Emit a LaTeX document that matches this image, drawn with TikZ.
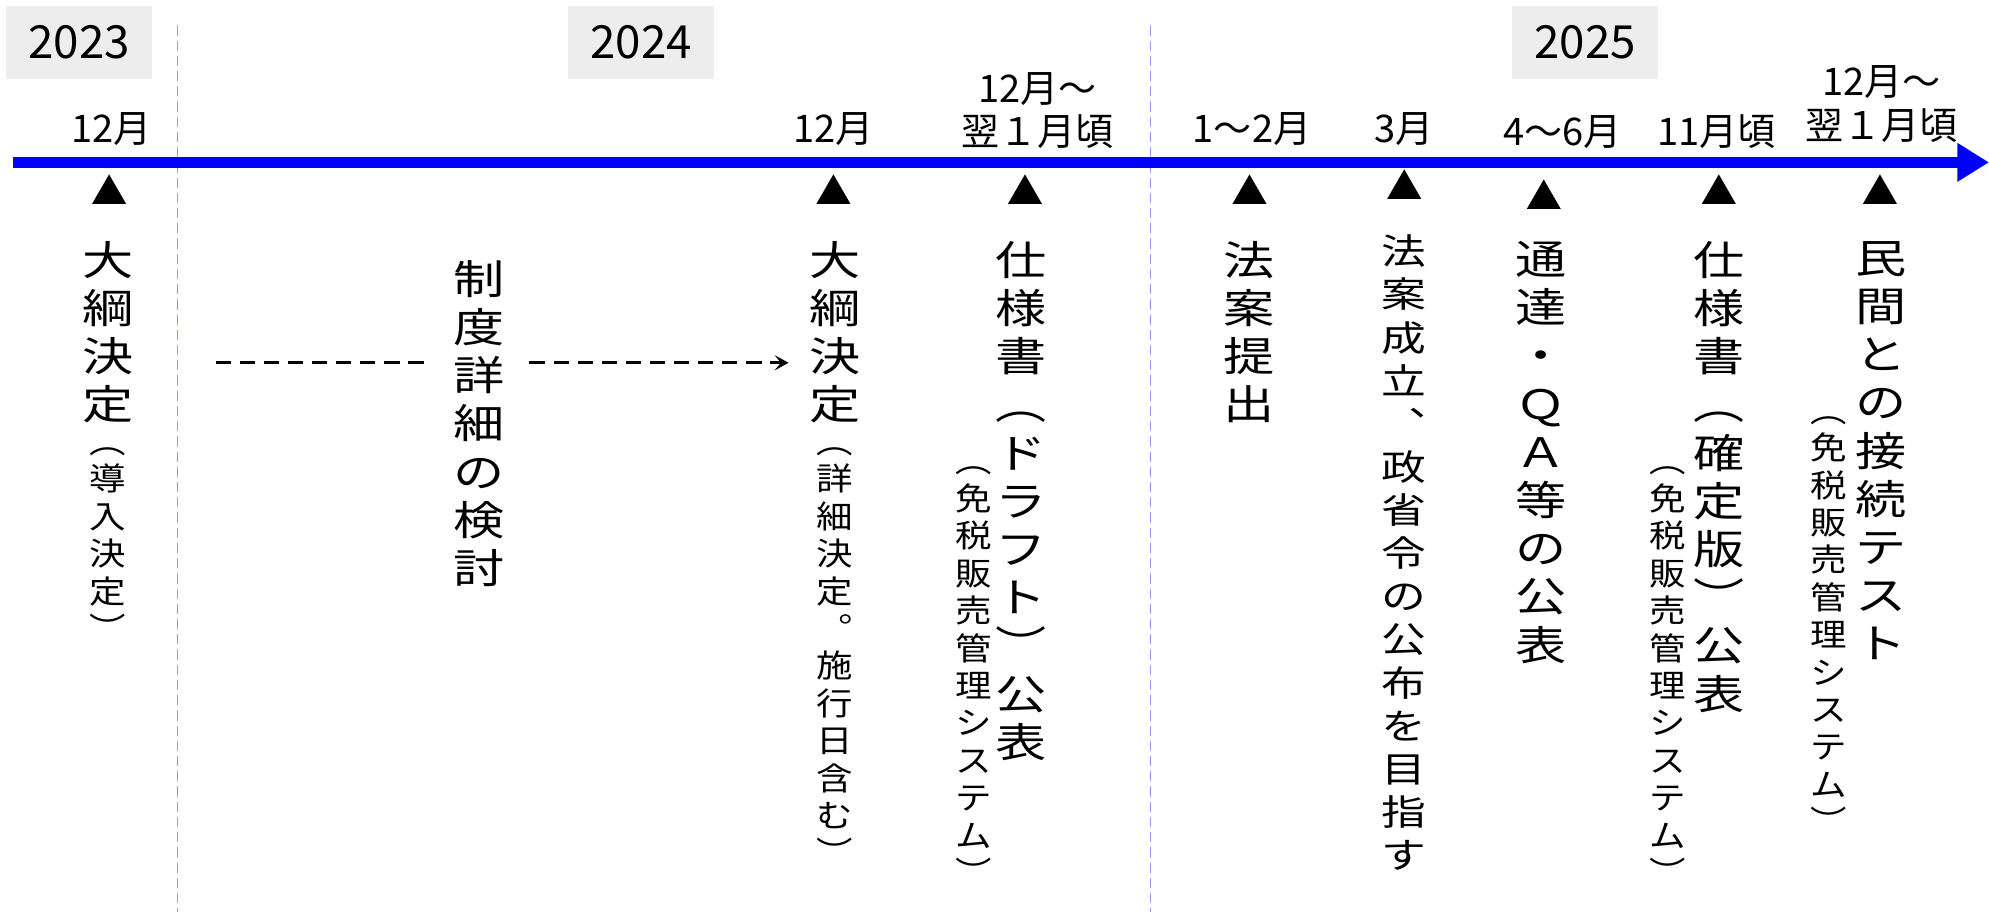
\documentclass[tikz,border=0pt]{standalone}
\usepackage{graphicx}
\usepackage{fontspec}
\setmainfont{Noto Sans CJK JP}
\usetikzlibrary{arrows.meta,shapes.geometric}
\definecolor{yeargray}{HTML}{EDEDED}
\definecolor{sepcol}{HTML}{9999FF}
\definecolor{tlblue}{HTML}{0000FF}
\ExplSyntaxOn
\NewDocumentCommand\vcol{O{1.26}mmm}{%
  \scalebox{#1}[1]{\vbox{\fontsize{#2}{#3}\selectfont
    \tl_map_inline:nn{#4}{\hbox_to_wd:nn{#2pt}{\hss##1\hss}}}}}
\ExplSyntaxOff
\newcommand\bigv[1]{\vcol{32}{38}{#1}}
\newcommand\smallv[1]{\vcol[1.15]{25}{29.5}{#1}}
\tikzset{
  yearbox/.style={fill=yeargray, minimum width=115pt, minimum height=57pt, inner sep=0pt,
    font=\fontsize{36}{40}\selectfont},
  timeline/.style={line width=8.7pt, draw=tlblue, -{Triangle[length=25pt,width=29pt]}},
  sepline/.style={draw=sepcol, line width=1.3pt, dash pattern=on 8pt off 4pt},
  tri/.style={regular polygon, regular polygon sides=3, fill=black, minimum size=31pt, inner sep=0pt},
  mlabel/.style={font=\fontsize{30}{34}\selectfont, align=center, inner sep=0pt},
  vnode/.style={anchor=north, inner sep=0pt, align=center},
  dasharrow/.style={draw=black, line width=2.6pt, dash pattern=on 12pt off 7pt},
}
\begin{document}
\begin{tikzpicture}[x=1pt,y=-1pt]
\useasboundingbox (0,0) rectangle (1568,719);
% year boxes
\node[yearbox] (y23) at (62.5,33.5) {2023};
\node[yearbox] (y24) at (505.5,33.5) {2024};
\node[yearbox] (y25) at (1249.5,33.5) {2025};
% separators
\coordinate (s1t) at (140,20); \coordinate (s1b) at (140,719);
\coordinate (s2t) at (907,20); \coordinate (s2b) at (907,719);
\draw[sepline] (s1t) -- (s1b);
\draw[sepline] (s2t) -- (s2b);
% timeline
\coordinate (ts) at (10,128); \coordinate (te) at (1568,128);
\draw[timeline] (ts) -- (te);
% month labels
\node[mlabel] (m1) at (88,102) {12月};
\node[mlabel] (m2) at (657,102) {12月};
\node[mlabel] (m3) at (818,87) {12月～\\翌１月頃};
\node[mlabel] (m4) at (987,102) {1～2月};
\node[mlabel] (m5) at (1107,102) {3月};
\node[mlabel] (m6) at (1232,104) {4～6月};
\node[mlabel] (m7) at (1353,104) {11月頃};
\node[mlabel] (m8) at (1483,82) {12月～\\翌１月頃};
% triangles
\node[tri] (t1) at (86,153) {};
\node[tri] (t2) at (657,153) {};
\node[tri] (t3) at (808,153) {};
\node[tri] (t4) at (985,153) {};
\node[tri] (t5) at (1107,149) {};
\node[tri] (t6) at (1217,157) {};
\node[tri] (t7) at (1355,153) {};
\node[tri] (t8) at (1482,153) {};
% vertical texts
\node[vnode] (a1) at (85,190) {\bigv{大綱決定}\\[18pt]\smallv{︵導入決定︶}};
\node[vnode] (b) at (378,205) {\bigv{制度詳細の検討}};
\node[vnode] (a2) at (658,190) {\bigv{大綱決定}\\[18pt]\smallv{︵詳細決定︒施行日含む︶}};
\node[vnode] (c) at (805,190) {\bigv{仕様書︵ドラフト︶公表}};
\node[vnode] (cs) at (768,368) {\smallv{︵免税販売管理システム︶}};
\node[vnode] (d) at (985,190) {\bigv{法案提出}};
\node[vnode] (e) at (1107,185) {\vcol{28}{34}{法案成立︑政省令の公布を目指す}};
\node[vnode] (f) at (1215,190) {\bigv{通達・ＱＡ等の公表}};
\node[vnode] (g) at (1355,190) {\bigv{仕様書︵確定版︶公表}};
\node[vnode] (gs) at (1315,368) {\smallv{︵免税販売管理システム︶}};
\node[vnode] (h) at (1483,190) {\bigv{民間との接続テスト}};
\node[vnode] (hs) at (1442,328) {\smallv{︵免税販売管理システム︶}};
% dashed arrow
\coordinate (ds) at (170,286);
\draw[dasharrow, shorten >=19pt] (ds) -- (ds -| b.west);
\draw[dasharrow, shorten <=19pt, shorten >=16pt, -{Stealth[length=11pt,width=12pt,inset=5pt]}] (ds -| b.east) -- (ds -| a2.west);
\end{tikzpicture}
\end{document}
